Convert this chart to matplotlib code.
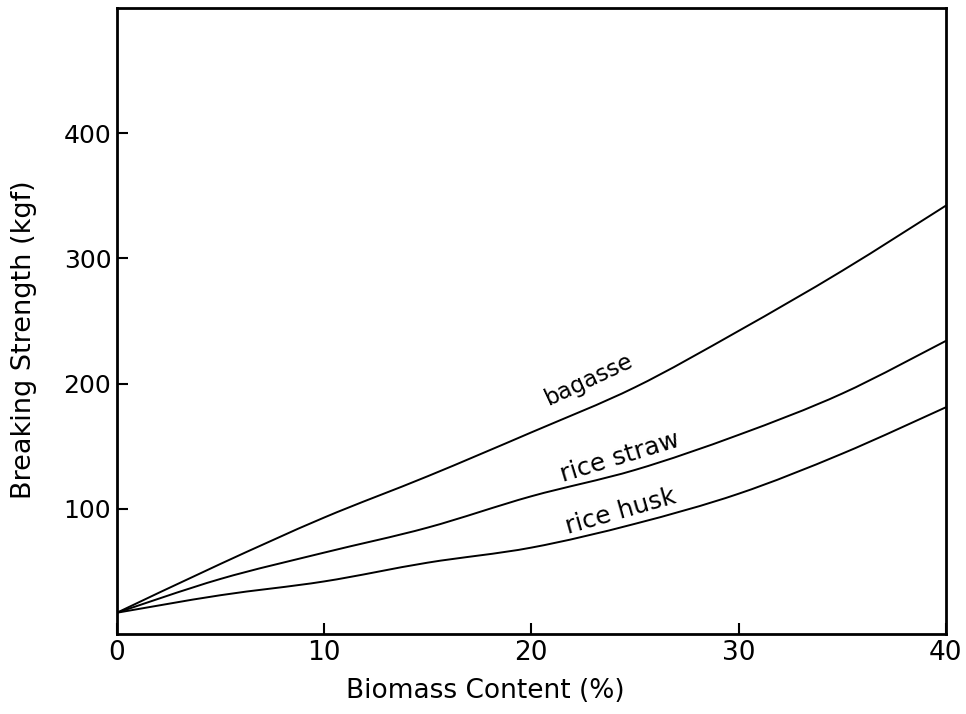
import matplotlib
matplotlib.use("Agg")
import matplotlib.pyplot as plt
from matplotlib.path import Path
from matplotlib.patches import PathPatch

# Data
biomass_content = [0, 5, 10, 15, 20, 25, 30, 35, 40]
bagasse = [17, 56, 93, 126, 161, 197, 242, 290, 342]
rice_straw = [17, 44, 65, 85, 110, 131, 159, 192, 234]
rice_husk = [17, 31, 42, 57, 69, 88, 112, 144, 181]

x_ticks = [0, 10, 20, 30, 40]
y_ticks = [100, 200, 300, 400]

labels = ["bagasse", "rice straw", "rice husk"]


def smooth_path(xs, ys):
    """Smooth curve through the read points (Catmull-Rom drawn as Bezier segments)."""
    verts = [(xs[0], ys[0])]
    codes = [Path.MOVETO]
    n = len(xs)
    for i in range(n - 1):
        x0, y0 = (xs[i - 1], ys[i - 1]) if i > 0 else (xs[i], ys[i])
        x1, y1 = xs[i], ys[i]
        x2, y2 = xs[i + 1], ys[i + 1]
        x3, y3 = (xs[i + 2], ys[i + 2]) if i + 2 < n else (xs[i + 1], ys[i + 1])
        c1 = (x1 + (x2 - x0) / 6.0, y1 + (y2 - y0) / 6.0)
        c2 = (x2 - (x3 - x1) / 6.0, y2 - (y3 - y1) / 6.0)
        verts += [c1, c2, (x2, y2)]
        codes += [Path.CURVE4] * 3
    return Path(verts, codes)


fig = plt.figure(figsize=(9.66, 7.14), dpi=100)
ax = fig.add_axes([0.121, 0.112, 0.858, 0.877])

for series in (bagasse, rice_straw, rice_husk):
    ax.add_patch(PathPatch(smooth_path(biomass_content, series), facecolor="none",
                           edgecolor="black", lw=1.4, capstyle="round"))

ax.set_xlim(0, 40)
ax.set_ylim(0, 500)
ax.set_xticks(x_ticks)
ax.set_yticks(y_ticks)
ax.set_xticklabels([str(v) for v in x_ticks], fontfamily="DejaVu Sans", fontsize=19)
ax.set_yticklabels([str(v) for v in y_ticks], fontfamily="DejaVu Sans", fontsize=18)

ax.tick_params(axis="both", direction="in", length=8, width=1.5, color="black")
ax.tick_params(axis="y", pad=4)
ax.tick_params(axis="x", pad=4)

for sp in ax.spines.values():
    sp.set_linewidth(2.0)
    sp.set_color("black")

ax.set_xlabel("Biomass Content (%)", fontsize=19, fontfamily="DejaVu Sans")
ax.xaxis.set_label_coords(0.444, -0.07)
ax.set_ylabel("Breaking Strength (kgf)", fontsize=19.5, fontfamily="DejaVu Sans")
ax.yaxis.set_label_coords(-0.096, 0.47)

ax.text(22.8, 203, labels[0], rotation=25, fontsize=16.5, ha="center", va="center",
        rotation_mode="anchor")
ax.text(24.3, 141, labels[1], rotation=17, fontsize=18, ha="center", va="center",
        rotation_mode="anchor")
ax.text(24.3, 98, labels[2], rotation=16, fontsize=18, ha="center", va="center",
        rotation_mode="anchor")

fig.savefig("out.png", dpi=100)
